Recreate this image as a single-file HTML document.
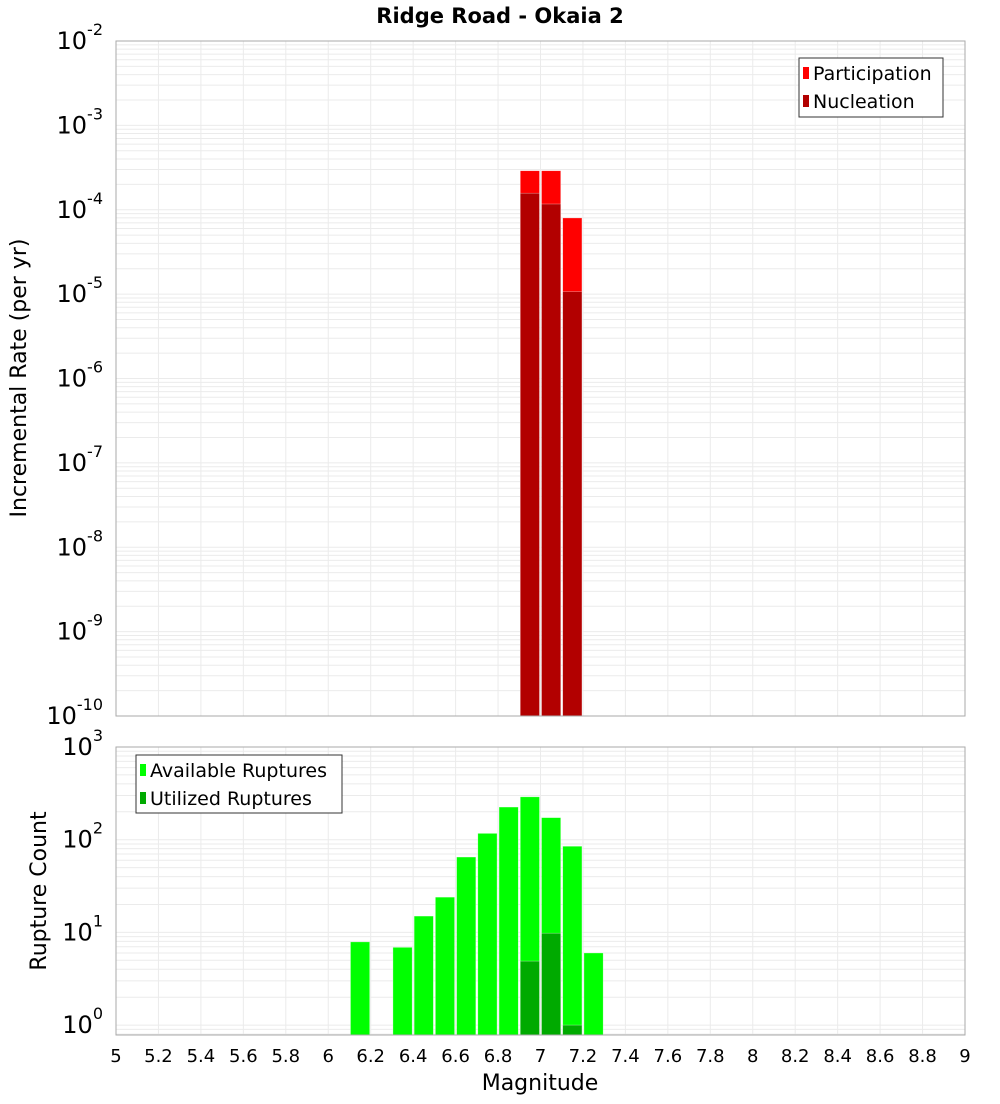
<!DOCTYPE html>
<html><head><meta charset="utf-8"><style>
body{margin:0;background:#fff;font-family:"DejaVu Sans","Liberation Sans",sans-serif;}
svg text{font-family:"DejaVu Sans","Liberation Sans",sans-serif;}
</style></head><body>
<svg id="c" width="1000" height="1100" xmlns="http://www.w3.org/2000/svg">
<rect width="1000" height="1100" fill="#fff"/>
<text x="500" y="23" text-anchor="middle" font-size="21" font-weight="bold">Ridge Road - Okaia 2</text>
<g id="topPlot"></g>
<g id="botPlot"></g>
<text transform="translate(26,378) rotate(-90)" text-anchor="middle" font-size="22">Incremental Rate (per yr)</text>
<text transform="translate(46,891) rotate(-90)" text-anchor="middle" font-size="22">Rupture Count</text>
<text x="540" y="1090" text-anchor="middle" font-size="22">Magnitude</text>
<g>
<rect x="799" y="58" width="144" height="59" fill="#fff" stroke="#333"/>
<rect x="803" y="67" width="6" height="12" fill="#ff0000"/>
<text x="813" y="80" font-size="19">Participation</text>
<rect x="803" y="95" width="6" height="12" fill="#b20000"/>
<text x="813" y="108" font-size="19">Nucleation</text>
</g>
<g>
<rect x="136" y="755" width="206" height="58" fill="#fff" stroke="#333"/>
<rect x="140" y="764" width="6" height="12" fill="#00ff00"/>
<text x="150" y="777" font-size="19">Available Ruptures</text>
<rect x="140" y="792" width="6" height="12" fill="#00aa00"/>
<text x="150" y="805" font-size="19">Utilized Ruptures</text>
</g>
</svg>
<script>
const rateMags=[6.95,7.05,7.15];
const participation=[2.9e-4,2.9e-4,8e-5];
const nucleation=[1.57e-4,1.17e-4,1.07e-5];
const countMags=[6.15,6.35,6.45,6.55,6.65,6.75,6.85,6.95,7.05,7.15,7.25];
const available=[7.9,6.9,15,24,65,117,225,290,173,85,6];
const utilMags=[6.95,7.05,7.15];
const utilized=[4.9,9.8,1];
const xTicks=[5,5.2,5.4,5.6,5.8,6,6.2,6.4,6.6,6.8,7,7.2,7.4,7.6,7.8,8,8.2,8.4,8.6,8.8,9];
const topExps=[-2,-3,-4,-5,-6,-7,-8,-9,-10];
const botExps=[3,2,1,0];

const NS='http://www.w3.org/2000/svg';
const X0=116,X1=965;
const xs=m=>X0+(m-5)/4*(X1-X0);
const yTop=v=>41+(-2-Math.log10(v))*84.375;
const yBot=v=>747+(3-Math.log10(v))*92.7;
function mk(p,t,a){const e=document.createElementNS(NS,t);for(const k in a)e.setAttribute(k,a[k]);p.appendChild(e);return e;}

function panel(g,yT,yB,yf,lo,hi,exps){
  mk(g,'rect',{x:X0,y:yT,width:X1-X0,height:yB-yT,fill:'#fff'});
  for(let e=lo;e<hi;e++)for(let k=1;k<10;k++){const v=k*Math.pow(10,e);const y=yf(v);if(y<yT||y>yB)continue;
    const l=mk(g,'line',{x1:X0,x2:X1,y1:y,y2:y,stroke:'#ebebeb','stroke-width':1});
    
    }
  xTicks.forEach(t=>{const x=xs(t);const l=mk(g,'line',{x1:x,x2:x,y1:yT,y2:yB,stroke:'#ebebeb','stroke-width':1});
    
    });
  exps.forEach(e=>{const y=yf(Math.pow(10,e));const t=mk(g,'text',{x:103,y:y+8,'text-anchor':'end','font-size':24});
    t.textContent='10';
    
    
    const s=mk(t,'tspan',{dy:-14,'font-size':16});s.textContent=String(e);});
}
const topG=document.getElementById('topPlot'),botG=document.getElementById('botPlot');
panel(topG,41,716,yTop,-10,-2,topExps);
panel(botG,747,1035,yBot,-1,3,botExps);

function bar(g,m,v,yf,yB,fill,name){const x=xs(m-0.05)+1,w=xs(m+0.05)-xs(m-0.05)-2;const y=yf(v);
  const r=mk(g,'rect',{x:x,y:y,width:w,height:yB-y,fill:fill,stroke:'#fff','stroke-opacity':0.5,'stroke-width':0.6});
  
  }
rateMags.forEach((m,i)=>bar(topG,m,participation[i],yTop,716,'#ff0000','participation-bar'));
rateMags.forEach((m,i)=>bar(topG,m,nucleation[i],yTop,716,'#b20000','nucleation-bar'));
countMags.forEach((m,i)=>bar(botG,m,available[i],yBot,1035,'#00ff00','available-bar'));
utilMags.forEach((m,i)=>bar(botG,m,utilized[i],yBot,1035,'#00aa00','utilized-bar'));

[[topG,41,716],[botG,747,1035]].forEach(([g,a,b])=>mk(g,'rect',{x:X0,y:a,width:X1-X0,height:b-a,fill:'none',stroke:'#aaa'}));
xTicks.forEach(t=>{const e=mk(botG,'text',{x:xs(t),y:1062,'text-anchor':'middle','font-size':18});e.textContent=String(t);
  
  });
</script>
</body></html>
